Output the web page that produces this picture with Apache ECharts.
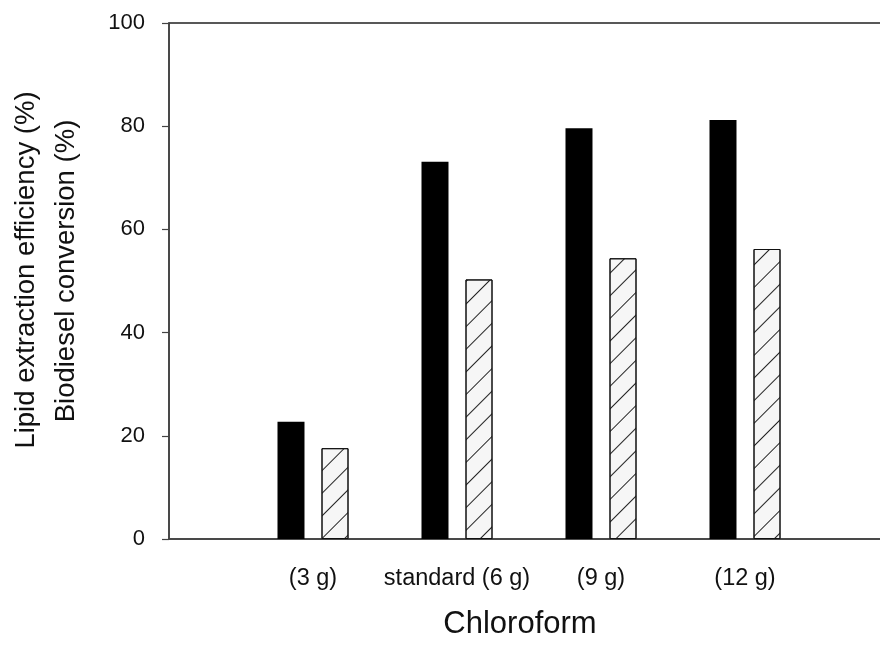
<!DOCTYPE html>
<html>
<head>
<meta charset="utf-8">
<script src="https://cdn.jsdelivr.net/npm/echarts@6/dist/echarts.min.js"></script>
<style>
  html, body { margin: 0; padding: 0; background: #fff; }
  #chart { width: 880px; height: 646px; }
</style>
</head>
<body>
<div id="chart"></div>
<script>
// categories (empty slots at both ends keep the spacing of the original axis)
var categories = ['', '(3 g)', 'standard (6 g)', '(9 g)', '(12 g)', ''];
// lipid extraction efficiency (%) - black bars
var lipidData = [null, 22.7, 73.1, 79.6, 81.2, null];
// biodiesel conversion (%) - hatched bars
var biodieselData = [null, 17.6, 50.3, 54.4, 56.2, null];
// y ticks
var yTicks = [0, 20, 40, 60, 80, 100];

var fontName = 'Liberation Sans, Arial, sans-serif';

var option = {
  backgroundColor: '#fff',
  animation: false,
  grid: {
    left: 169,
    top: 23,
    width: 720,
    height: 516,
    outerBoundsMode: 'none',
    show: true,
    borderColor: '#222',
    borderWidth: 1.5
  },
  xAxis: {
    type: 'category',
    data: categories,
    boundaryGap: false,
    axisLine: { lineStyle: { color: '#444', width: 1.5 } },
    axisTick: { show: false },
    axisLabel: {
      color: '#111',
      fontSize: 23.5,
      fontFamily: fontName,
      margin: 28,
      interval: 0
    },
    splitLine: { show: false }
  },
  yAxis: {
    type: 'value',
    min: yTicks[0],
    max: yTicks[yTicks.length - 1],
    interval: 20,
    axisLine: { show: true, lineStyle: { color: '#444', width: 1.5 } },
    axisTick: { show: true, length: 7, lineStyle: { color: '#444', width: 1.2 } },
    axisLabel: {
      color: '#111',
      fontSize: 22,
      fontFamily: fontName,
      margin: 24
    },
    splitLine: { show: false }
  },
  series: [
    {
      name: 'Lipid extraction efficiency',
      type: 'bar',
      data: lipidData,
      barWidth: 27,
      barGap: '63%',
      itemStyle: { color: '#000' }
    },
    {
      name: 'Biodiesel conversion',
      type: 'bar',
      data: biodieselData,
      barWidth: 27,
      itemStyle: {
        color: '#f6f6f6',
        borderColor: '#111',
        borderWidth: 1,
        decal: {
          symbol: 'rect',
          symbolSize: 1,
          color: '#222',
          dashArrayX: [1, 0],
          dashArrayY: [1, 15],
          rotation: -Math.PI / 4
        }
      }
    }
  ],
  graphic: [
    {
      type: 'text',
      x: 26, y: 270,
      rotation: Math.PI / 2,
      style: {
        text: 'Lipid extraction efficiency (%)',
        fontSize: 27.5,
        fontFamily: fontName,
        fill: '#111',
        align: 'center',
        verticalAlign: 'middle'
      }
    },
    {
      type: 'text',
      x: 66, y: 271,
      rotation: Math.PI / 2,
      style: {
        text: 'Biodiesel conversion (%)',
        fontSize: 27.5,
        fontFamily: fontName,
        fill: '#111',
        align: 'center',
        verticalAlign: 'middle'
      }
    },
    {
      type: 'text',
      x: 520, y: 624,
      style: {
        text: 'Chloroform',
        fontSize: 31,
        fontFamily: fontName,
        fill: '#111',
        align: 'center',
        verticalAlign: 'middle'
      }
    }
  ]
};

var myChart = echarts.init(document.getElementById('chart'));
myChart.setOption(option);
</script>
</body>
</html>
